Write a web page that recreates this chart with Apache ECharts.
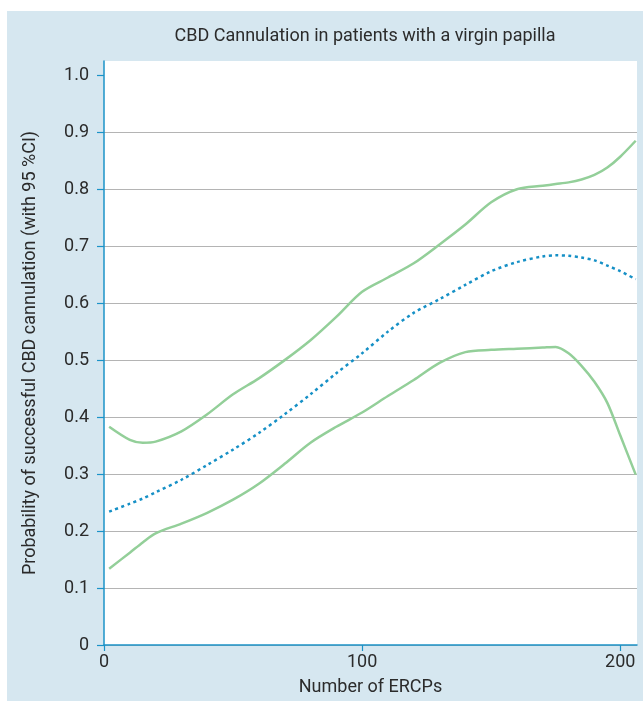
<!DOCTYPE html>
<html>
<head>
<meta charset="utf-8">
<script src="https://cdn.jsdelivr.net/npm/echarts@6/dist/echarts.min.js"></script>
<style>
html,body{margin:0;padding:0;background:#fff;}
#chart{width:643px;height:701px;}
</style>
</head>
<body>
<div id="chart"></div>
<script>
var titleText = 'CBD Cannulation in patients with a virgin papilla';
var xName = 'Number of ERCPs';
var yName = 'Probability of successful CBD cannulation (with 95 %CI)';
var ercps = [2, 10, 15, 20, 30, 40, 50, 60, 70, 80, 90, 100, 110, 120, 130, 140, 150, 160, 170, 175, 180, 185, 190, 195, 200, 206];
var upperCI = [0.383, 0.360, 0.355, 0.357, 0.375, 0.405, 0.440, 0.468, 0.500, 0.535, 0.576, 0.620, 0.645, 0.670, 0.703, 0.738, 0.777, 0.800, 0.806, 0.809, 0.812, 0.817, 0.825, 0.838, 0.857, 0.885];
var estimate = [0.234, 0.248, 0.257, 0.268, 0.290, 0.316, 0.343, 0.372, 0.405, 0.440, 0.477, 0.512, 0.550, 0.583, 0.607, 0.632, 0.656, 0.672, 0.682, 0.684, 0.683, 0.680, 0.675, 0.666, 0.656, 0.642];
var lowerCI = [0.134, 0.162, 0.180, 0.196, 0.213, 0.232, 0.255, 0.283, 0.318, 0.355, 0.383, 0.408, 0.437, 0.465, 0.495, 0.514, 0.518, 0.520, 0.522, 0.523, 0.512, 0.490, 0.462, 0.425, 0.368, 0.299];
var yTicks = [0, 0.1, 0.2, 0.3, 0.4, 0.5, 0.6, 0.7, 0.8, 0.9, 1.0];
var xTicks = [0, 100, 200];

function pairs(xs, ys){ return xs.map(function(x,i){ return [x, ys[i]]; }); }

var FONT = 'Roboto';
var TEXT = '#2b2b2b';
var AXIS_BLUE = '#1b93c8';
var chart = echarts.init(document.getElementById('chart'), null, {renderer:'canvas'});
chart.setOption({
  animation: false,
  backgroundColor: '#ffffff',
  graphic: [{
    type: 'rect', z: -10, silent: true,
    shape: {x: 7, y: 11, width: 636, height: 690},
    style: {fill: '#d6e7f0'}
  }],
  title: {
    text: titleText,
    left: 360, top: 22, textAlign: 'center',
    textStyle: {fontFamily: FONT, fontSize: 18, fontWeight: 'normal', color: TEXT}
  },
  grid: {
    left: 104, top: 61, right: 6, bottom: 54,
    show: true, backgroundColor: '#ffffff', borderWidth: 0
  },
  xAxis: {
    type: 'value', min: 0, max: 206.5,
    name: xName, nameLocation: 'middle', nameGap: 33,
    nameTextStyle: {fontFamily: FONT, fontSize: 18, color: TEXT},
    axisLine: {show: true, lineStyle: {color: AXIS_BLUE, width: 1.5}},
    axisTick: {show: true, length: 6, customValues: xTicks, lineStyle: {color: AXIS_BLUE, width: 1.2}},
    axisLabel: {customValues: xTicks, margin: 8, fontFamily: FONT, fontSize: 18, color: TEXT},
    splitLine: {show: false}
  },
  yAxis: {
    type: 'value', min: 0, max: 1.025,
    name: yName, nameLocation: 'middle', nameGap: 65,
    nameTextStyle: {fontFamily: FONT, fontSize: 18, color: TEXT},
    axisLine: {show: true, lineStyle: {color: AXIS_BLUE, width: 1.5}},
    axisTick: {show: true, length: 7, customValues: yTicks, lineStyle: {color: AXIS_BLUE, width: 1.2}},
    axisLabel: {customValues: yTicks, margin: 15, fontFamily: FONT, fontSize: 18, color: TEXT,
      formatter: function(v){ return v === 0 ? '0' : v.toFixed(1); }},
    splitLine: {show: true, showMaxLine: false, lineStyle: {color: '#b4b4b4', width: 1.2}}
  },
  series: [
    {type: 'line', data: pairs(ercps, upperCI), smooth: 0.3, symbol: 'none',
     lineStyle: {color: '#93cf99', width: 2.5}},
    {type: 'line', data: pairs(ercps, lowerCI), smooth: 0.3, symbol: 'none',
     lineStyle: {color: '#93cf99', width: 2.5}},
    {type: 'line', data: pairs(ercps, estimate), smooth: 0.3, symbol: 'none',
     lineStyle: {color: '#1690c6', width: 2.5, type: [3, 3.5]}}
  ]
});
</script>
</body>
</html>
